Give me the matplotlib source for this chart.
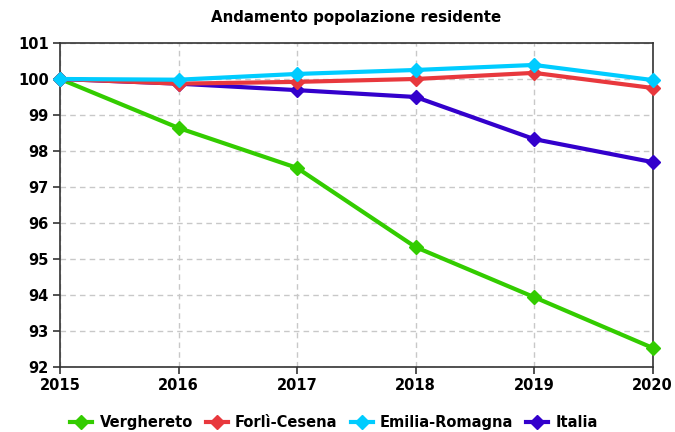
import matplotlib
matplotlib.use("Agg")
import matplotlib.pyplot as plt

years = [2015, 2016, 2017, 2018, 2019, 2020]
verghereto = [100.0, 98.64, 97.53, 95.33, 93.94, 92.53]
forli_cesena = [100.0, 99.87, 99.92, 100.0, 100.17, 99.75]
emilia_romagna = [100.0, 99.98, 100.14, 100.25, 100.39, 99.97]
italia = [100.0, 99.87, 99.69, 99.50, 98.33, 97.69]
series_names = ["Verghereto", "Forlì-Cesena", "Emilia-Romagna", "Italia"]
colors = ["#33cc00", "#e8383d", "#00ccff", "#3300cc"]
yticks = list(range(92, 102))

plt.rcParams['font.family'] = ['DejaVu Sans']
fig = plt.figure(figsize=(6.75, 4.32), dpi=100)
ax = fig.add_axes([0.0889, 0.1505, 0.878, 0.75])

data = [verghereto, forli_cesena, emilia_romagna, italia]
order = [0, 3, 1, 2]
handles = {}
for i in order:
    h, = ax.plot(years, data[i], color=colors[i], lw=3, marker='D', ms=7.5,
                 label=series_names[i], clip_on=False, zorder=3)
    handles[i] = h

ax.set_xlim(2015, 2020)
ax.set_ylim(92, 101)
ax.set_xticks(years)
ax.set_yticks(yticks)
ax.set_xticklabels([str(y) for y in years], fontweight='bold', fontsize=10.5)
ax.set_yticklabels([str(y) for y in yticks], fontweight='bold', fontsize=10.5)
ax.grid(True, color='#c8c8c8', ls=(0, (4, 3)), lw=1)
ax.tick_params(direction='out', length=5, width=1.2, color='#333333', pad=3)
for s in ax.spines.values():
    s.set_color('#333333')
    s.set_linewidth(1.2)
ax.set_title("Andamento popolazione residente", fontweight='bold', fontsize=10.8, pad=15)

leg = fig.legend([handles[i] for i in range(4)], series_names, loc='lower center',
                 bbox_to_anchor=(0.495, -0.025), ncol=4, frameon=False,
                 prop={'weight': 'bold', 'size': 10.5}, handlelength=1.5,
                 handletextpad=0.5, columnspacing=0.9, markerscale=0.9)

fig.savefig("out.png", dpi=100)
